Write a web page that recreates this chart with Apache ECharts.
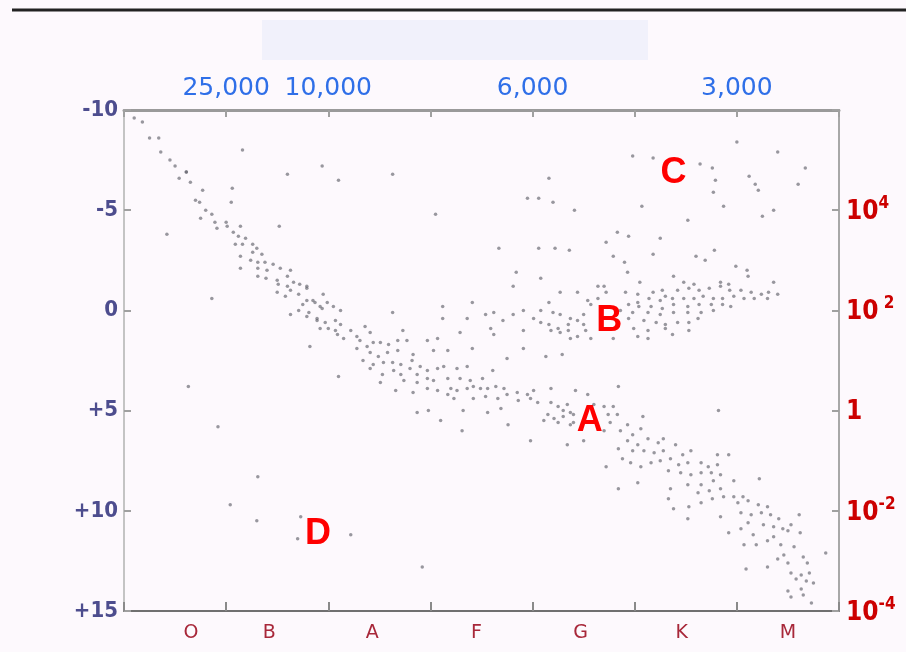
<!DOCTYPE html>
<html>
<head>
<meta charset="utf-8">
<script src="https://cdn.jsdelivr.net/npm/echarts@6/dist/echarts.min.js"></script>
<style>
html,body{margin:0;padding:0;background:#fdf9fd;}
#chart{width:906px;height:652px;}
</style>
</head>
<body>
<div id="chart"></div>
<script>
// Spectral classes (bottom axis), x data unit = spectral subclass (O0=0 ... M9=69)
const spectralClasses = ['O','B','A','F','G','K','M'];
// Temperature labels on the top axis
const tempTickPos = [10, 20, 40, 60];
const tempTickText = ['25,000', '10,000', '6,000', '3,000'];
// Absolute magnitude ticks (left)
const magTicks = [-10, -5, 0, 5, 10, 15];
// Luminosity exponent ticks (right), 10^n
const lumExp = [-4, -2, 0, 2, 4];

// Stars: [spectral subclass, absolute magnitude]
const mainSequenceUpper = [
 [1.0,-9.6],[1.8,-9.4],[2.5,-8.6],[3.4,-8.6],[3.6,-7.9],[4.5,-7.5],[5.0,-7.2],[5.4,-6.6],[6.5,-6.4],[6.1,-6.9],
 [7.7,-6.0],[7.0,-5.5],[7.4,-5.4],[8.0,-5.0],[8.6,-4.8],[7.5,-4.6],[8.9,-4.4],[9.1,-4.1],[10.0,-4.4],[10.1,-4.2],
 [10.5,-5.4],[11.4,-4.2],[4.2,-3.8],[10.7,-3.9],[11.2,-3.7],[11.9,-3.6],[10.9,-3.3],[11.6,-3.3],[12.6,-3.3],[13.0,-3.1],
 [12.6,-2.9],[13.5,-2.8],[11.4,-2.7],[12.4,-2.5],[13.1,-2.4],[13.8,-2.4],[14.6,-2.3],[11.4,-2.1],[13.1,-2.1],[14.0,-2.0],
 [15.3,-2.1],[16.3,-2.0],[13.1,-1.7],[13.9,-1.6],[15.0,-1.5],[16.0,-1.7],[16.6,-1.4],[15.1,-1.3],[16.0,-1.2],[17.2,-1.3],
 [17.9,-1.1],[15.0,-0.9],[16.3,-1.0],[17.1,-0.8],[15.8,-0.7],[17.9,-0.5],[18.7,-0.4],[19.5,-0.8],[19.9,-0.4],[16.3,0.2],
 [17.1,0.0],[18.1,0.1],[19.4,-0.1],[20.5,-0.2],[18.9,0.5],[19.7,0.6],[20.7,0.5],[19.2,0.9],[20.0,0.9],[20.7,1.0],
 [18.2,1.8],[17.9,-1.2],[17.5,-0.3],[18.5,-0.5],[19.2,-0.2],[21.2,0.0],[17.9,0.3],[18.9,0.4],[21.2,0.7],[22.2,1.0],
 [22.8,1.3],[23.6,0.8],[23.1,1.5],[24.1,1.1],[21.5,1.4],[20.9,1.2],[22.8,1.9],[23.8,1.8],[24.4,1.6],[25.1,1.6],
 [25.9,1.7],[26.3,0.1],[27.3,1.0],[27.7,1.5],[26.8,1.5],[24.1,2.1],[24.9,2.3],[25.8,2.1],[26.8,2.0],[25.4,2.6],
 [26.3,2.6],[24.4,2.7],[27.1,2.7],[23.4,2.5],[28.3,2.2],[28.2,2.5],[29.7,1.5],[30.7,1.4],[30.3,2.0],[31.7,2.0],
 [32.9,1.1],[34.1,1.9],[29.0,2.8],[28.0,2.9],[26.4,3.0],[27.1,3.2],[28.7,3.2],[29.7,3.0],[30.7,2.9],[31.3,2.8],
 [32.6,2.9],[33.6,2.8],[25.3,3.2],[24.1,2.9],[21.0,3.3],[25.1,3.6],[27.4,3.5],[28.7,3.6],[29.7,3.4],[30.3,3.5]
];
const mainSequenceLower = [
 [31.7,3.4],[32.9,3.4],[33.9,3.5],[35.1,3.4],[36.1,3.0],[26.6,4.0],[28.3,4.1],[29.7,3.9],[30.7,4.0],[32.0,3.9],
 [32.6,4.0],[33.6,3.9],[34.2,3.8],[34.9,3.9],[35.6,3.9],[36.4,3.8],[37.2,3.9],[31.7,4.2],[32.3,4.4],[34.2,4.4],
 [35.4,4.3],[36.6,4.4],[37.5,4.2],[38.5,4.1],[39.5,4.2],[40.1,4.0],[39.8,4.4],[38.6,4.5],[40.5,4.6],[41.8,3.9],
 [41.8,4.6],[42.5,4.8],[43.4,4.7],[43.0,5.0],[41.5,5.2],[42.1,5.4],[43.0,5.3],[44.0,5.2],[41.1,5.5],[42.5,5.6],
 [43.7,5.7],[28.7,5.1],[29.8,5.0],[33.2,5.0],[35.6,5.1],[37.6,5.7],[31.0,5.5],[36.9,4.9],[33.1,6.0],[39.8,6.5],
 [43.4,6.7],[45.0,6.5],[45.4,4.2],[46.0,4.7],[43.7,5.1],[44.2,4.0],[44.0,5.6],[47.0,4.8],[47.9,4.8],[47.4,5.2],
 [48.3,5.2],[47.6,5.6],[48.4,3.8],[47.0,6.0],[48.6,6.0],[49.3,5.7],[49.8,6.2],[50.8,5.3],[50.6,5.9],[49.3,6.5],
 [50.3,6.7],[51.3,6.4],[52.3,6.6],[52.8,6.4],[48.4,6.9],[49.8,7.0],[50.9,7.0],[51.9,7.1],[52.8,7.0],[54.0,6.7],
 [53.5,7.4],[54.7,7.2],[55.5,7.0],[52.5,7.5],[51.6,7.6],[48.8,7.4],[49.6,7.6],[50.6,7.8],[54.3,7.7],[55.2,7.6],
 [56.5,7.6],[57.2,7.8],[58.1,7.7],[59.2,7.2],[58.1,7.2],[53.3,8.0],[54.5,8.1],[55.5,8.2],[56.5,8.1],[57.5,8.1],
 [58.4,8.2],[59.7,8.5],[62.2,8.4],[57.7,8.5],[56.5,8.7],[55.2,8.7],[53.5,8.9],[56.2,9.1],[57.3,9.0],[58.4,8.9],
 [59.7,9.3],[60.6,9.3],[58.7,9.3],[57.6,9.4],[56.5,9.6],[55.3,9.8],[53.8,9.9],[53.3,9.4],[50.3,8.6],[48.4,8.9],
 [47.2,7.8],[60.1,9.6],[61.1,9.5],[62.1,9.7],[63.0,9.8],[58.4,10.3],[60.4,10.1],[61.4,10.2],[62.4,10.1],[63.3,10.2],
 [64.1,10.4],[66.1,10.2],[55.2,10.4],[61.1,10.6],[62.6,10.7],[63.6,10.8],[64.5,10.9],[65.3,10.7],[60.4,10.9],[59.2,11.1],
 [61.6,11.2],[63.6,11.3],[65.0,11.0],[66.2,11.1],[60.7,11.7],[61.9,11.7],[63.0,11.5],[64.3,11.7],[65.6,11.8],[64.6,12.2],
 [66.5,12.3],[68.7,12.1],[64.0,12.4],[63.0,12.8],[65.0,12.6],[66.9,12.6],[65.3,13.1],[66.3,13.2],[67.1,13.1],[65.8,13.4],
 [66.8,13.5],[67.5,13.6],[65.0,14.0],[66.3,13.9],[65.3,14.3],[66.5,14.2],[67.3,14.6],[60.9,12.9],[58.2,5.0]
];
const giants = [
 [38.4,-1.9],[38.1,-1.2],[40.8,-1.6],[34.1,-0.4],[31.2,-0.2],[31.2,0.4],[33.6,0.4],[35.4,0.2],[36.2,0.1],[37.1,0.5],
 [35.9,0.9],[36.2,1.2],[37.5,2.4],[39.1,0.0],[39.1,1.0],[39.1,1.9],[41.3,2.3],[42.9,2.2],[40.8,0.0],[41.6,-0.4],
 [42.0,0.1],[42.7,0.2],[43.7,0.4],[44.4,0.5],[45.0,0.7],[44.4,-0.9],[45.4,-0.5],[46.4,-1.2],[43.5,1.0],[44.4,1.3],
 [45.2,1.0],[45.7,1.4],[41.8,1.0],[40.1,0.4],[42.7,-0.9],[49.3,-1.9],[49.0,-2.4],[59.9,-2.2],[61.0,-2.0],[61.1,-1.7],
 [50.5,-1.4],[53.8,-1.7],[54.8,-1.4],[55.8,-1.3],[58.4,-1.4],[59.2,-1.3],[63.6,-1.4],[47.2,-0.9],[45.7,-0.3],[49.1,-0.9],
 [50.3,-0.8],[51.8,-0.9],[52.7,-1.0],[53.0,-0.7],[54.2,-1.0],[55.3,-1.1],[56.3,-1.0],[57.3,-1.1],[58.4,-1.2],[59.3,-1.0],
 [60.4,-1.0],[61.4,-0.9],[62.4,-0.8],[63.1,-0.9],[64.0,-0.8],[63.0,-0.6],[61.7,-0.6],[60.7,-0.6],[59.7,-0.7],[58.6,-0.6],
 [57.7,-0.6],[56.7,-0.7],[55.8,-0.6],[54.8,-0.6],[53.7,-0.6],[52.5,-0.5],[51.4,-0.6],[50.3,-0.4],[49.4,-0.3],[50.4,-0.2],
 [51.6,-0.2],[52.7,-0.1],[53.8,-0.3],[55.2,-0.2],[56.3,-0.3],[57.5,-0.3],[58.6,-0.3],[59.4,-0.2],[51.3,0.1],[52.5,0.2],
 [53.8,0.1],[55.2,0.1],[56.5,0.1],[57.7,0.0],[49.8,0.1],[48.6,0.0],[49.4,0.4],[50.9,0.5],[52.1,0.6],[53.0,0.7],
 [54.2,0.6],[55.3,0.6],[56.2,0.4],[49.9,0.9],[51.3,1.0],[53.0,0.9],[55.3,1.0],[53.7,1.2],[51.3,1.4],[50.3,1.3],
 [47.9,1.4],[43.7,1.4],[42.7,1.1],[43.5,0.7],[45.0,0.2],[38.1,0.2],[40.8,0.6],[41.6,0.7],[42.5,0.9],[47.0,-1.2],
 [46.4,-0.6]
];
const supergiants = [
 [11.6,-8.0],[6.1,-6.9],[10.6,-6.1],[15.2,-4.2],[16.0,-6.8],[19.4,-7.2],[21.0,-6.5],[26.3,-6.8],[30.5,-4.8],
 [49.8,-7.7],[51.8,-7.6],[56.4,-7.3],[57.6,-7.1],[57.9,-6.5],[57.7,-5.9],[58.7,-5.2],[61.2,-6.7],[61.8,-6.3],[62.1,-6.0],
 [64.0,-7.9],[66.7,-7.1],[66.0,-6.3],[63.6,-5.0],[62.5,-4.7],[60.0,-8.4],[41.6,-6.6],[39.5,-5.6],[40.6,-5.6],[42.0,-5.4],
 [44.1,-5.0],[50.7,-5.2],[55.2,-4.5],[48.3,-3.9],[49.4,-3.7],[47.2,-3.4],[52.5,-3.6],[36.7,-3.1],[40.6,-3.1],[42.2,-3.1],
 [43.6,-3.0],[47.9,-2.7],[51.8,-2.8],[56.0,-2.7],[56.9,-2.5],[57.8,-3.0]
];
const whiteDwarfs = [
 [8.6,-0.6],[6.3,3.8],[9.2,5.8],[13.1,8.3],[10.4,9.7],[13.0,10.5],[17.3,10.3],[17.0,11.4],[22.2,11.2],[29.2,12.8]
];

// Region letters
const regionNames = ['A','B','C','D'];
const regionX = [45.6, 47.5, 53.8, 19.0];
const regionY = [5.5, 0.55, -6.85, 11.15];

const allStars = mainSequenceUpper.concat(mainSequenceLower, giants, supergiants, whiteDwarfs);
const regionData = regionNames.map((n, i) => ({ value: [regionX[i], regionY[i]], name: n }));

// per-class label nudges (text layout only)
const classLabelStyle = {
  O: { padding: [0, 0, 0, 32] }, B: { padding: [0, 16, 0, 0] }, A: { padding: [0, 14, 0, 0] },
  F: { padding: [0, 10, 0, 0] }, G: { padding: [0, 6, 0, 0] }, K: { padding: [0, 8, 0, 0] }, M: {}
};

const chart = echarts.init(document.getElementById('chart'));
const axisFont = 'DejaVu Sans';
const condFont = "'DejaVu Sans Condensed', 'DejaVu Sans'";
const narrowFont = "'Liberation Sans Narrow', 'DejaVu Sans Condensed', 'Liberation Sans'";
chart.setOption({
  backgroundColor: '#fdf9fd',
  animation: false,
  graphic: [
    { type: 'line', shape: { x1: 12, y1: 10, x2: 906, y2: 10 }, style: { stroke: '#222', lineWidth: 3 } },
    { type: 'rect', shape: { x: 262, y: 20, width: 386, height: 40 }, style: { fill: '#f1f1fb' }, z: -1 }
  ],
  grid: { left: 124, right: 67, top: 110, bottom: 41, containLabel: false },
  xAxis: [
    {
      type: 'value', min: 0, max: 70, interval: 10, position: 'bottom',
      axisLine: { show: true, onZero: false, lineStyle: { color: '#707070', width: 2 } },
      axisTick: { show: true, inside: true, length: 9, lineStyle: { color: '#8a8a8a', width: 2 } },
      axisLabel: { show: false }, splitLine: { show: false }
    },
    {
      type: 'category', data: spectralClasses, position: 'bottom', boundaryGap: true,
      axisLine: { show: false, onZero: false }, axisTick: { show: false },
      axisLabel: {
        color: '#a8283a', fontSize: 19, fontFamily: axisFont, margin: 13,
        formatter: v => '{' + v + '|' + v + '}',
        rich: Object.fromEntries(spectralClasses.map(c => [c, Object.assign({ color: '#a8283a', fontSize: 19, fontFamily: axisFont }, classLabelStyle[c])]))
      }
    },
    {
      type: 'value', min: 0, max: 70, interval: 10, position: 'top',
      axisLine: { show: true, onZero: false, lineStyle: { color: '#9a9a9a', width: 3 } },
      axisTick: { show: true, inside: true, length: 7, lineStyle: { color: '#a0a0a0', width: 2 } },
      axisLabel: {
        color: '#2f6fe8', fontSize: 25, fontFamily: axisFont, margin: 9,
        formatter: v => { const i = tempTickPos.indexOf(v); return i >= 0 ? tempTickText[i] : ''; }
      },
      splitLine: { show: false }
    }
  ],
  yAxis: [
    {
      type: 'value', inverse: true, min: magTicks[0], max: magTicks[magTicks.length - 1], interval: 5, position: 'left',
      axisLine: { show: true, onZero: false, lineStyle: { color: '#c4c4c4', width: 2 } },
      axisTick: { show: true, inside: true, length: 7, lineStyle: { color: '#a0a0a0', width: 2 } },
      axisLabel: {
        color: '#4d4d8e', fontSize: 22, fontWeight: 'bold', fontFamily: condFont, margin: 6,
        formatter: v => (v > 0 ? '+' + v : String(v))
      },
      splitLine: { show: false }
    },
    {
      type: 'value', min: -4, max: 6, interval: 2, position: 'right',
      axisLine: { show: true, onZero: false, lineStyle: { color: '#a8a8a8', width: 2 } },
      axisTick: { show: true, inside: true, length: 7, lineStyle: { color: '#a0a0a0', width: 2 } },
      axisLabel: {
        margin: 7,
        formatter: v => {
          if (lumExp.indexOf(v) < 0) return '';
          if (v === 0) return '{b|1}';
          return '{b|10}{s|' + (v < 0 ? '-' + (-v) : (v === 2 ? ' ' + v : v)) + '}';
        },
        rich: {
          b: { color: '#cc0000', fontSize: 26, fontWeight: 'bold', fontFamily: narrowFont, lineHeight: 30, verticalAlign: 'bottom' },
          s: { color: '#cc0000', fontSize: 17, fontWeight: 'bold', fontFamily: narrowFont, lineHeight: 30, verticalAlign: 'top', padding: [0, 0, 10, 0] }
        }
      },
      splitLine: { show: false }
    }
  ],
  series: [
    {
      type: 'scatter', xAxisIndex: 0, yAxisIndex: 0, data: allStars,
      symbol: 'circle', symbolSize: 3.5,
      itemStyle: { color: 'rgba(95,95,105,0.8)' },
      silent: true
    },
    {
      type: 'scatter', xAxisIndex: 0, yAxisIndex: 0, data: regionData,
      symbolSize: 0.1, itemStyle: { color: '#ff0000', opacity: 1 },
      label: {
        show: true, position: 'inside', formatter: p => p.name, opacity: 1,
        color: '#ff0000', fontSize: 36, fontWeight: 'bold', fontFamily: 'Liberation Sans',
        textBorderWidth: 0, textShadowBlur: 0
      },
      z: 5, silent: true
    }
  ]
});
</script>
</body>
</html>
